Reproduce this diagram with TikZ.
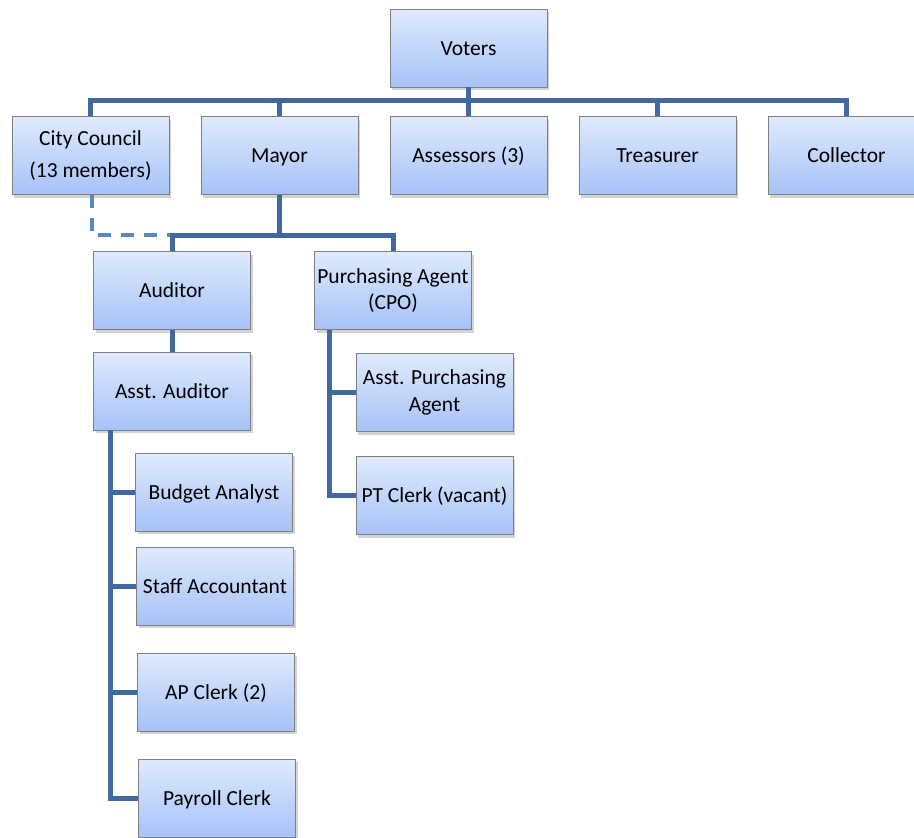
\documentclass[tikz,border=0pt]{standalone}
\usepackage{fontspec}
\setmainfont{Carlito}
\usepackage{tikz}
\usetikzlibrary{shadows}
\definecolor{boxtop}{HTML}{DFEAFD}
\definecolor{boxbot}{HTML}{A6C2F7}
\definecolor{boxline}{HTML}{7F7F7F}
\definecolor{linkblue}{HTML}{41699F}
\definecolor{dashblue}{HTML}{5887C2}

\begin{document}
\begin{tikzpicture}[x=1pt, y=-1pt]
                % pixel grid of the chart, y runs downwards
                \tikzstyle{unit}=[rectangle, draw=boxline, line width=0.9pt, top color=boxtop, bottom color=boxbot,
                        minimum width=157pt, minimum height=78pt, inner sep=1pt, align=center,
                        font=\fontsize{21.5}{26.5}\selectfont,
                        drop shadow={shadow xshift=2pt, shadow yshift=-3pt, opacity=0.35}]
                \tikzstyle{unit1}=[unit, text height=14pt, text depth=0pt]
                \tikzstyle{link}=[linkblue, line width=5pt]
                \tikzstyle{dlink}=[dashblue, line width=4pt, dash pattern=on 13pt off 10pt]
                \path[use as bounding box, clip] (0, 0) rectangle (914, 838);

                \node[unit1] (Voters) at (468.5, 48) {Voters};

                \node[unit] (Council) at (90.5, 155.5) {City Council\\[5pt](13 members)};
                \node[unit1] (Mayor) at (279.5, 155.5) {Mayor};
                \node[unit1] (Assessors) at (468.5, 155.5) {Assessors (3)};
                \node[unit1] (Treasurer) at (657.5, 155.5) {Treasurer};
                \node[unit1] (Collector) at (846.5, 155.5) {Collector};

                \node[unit1] (Auditor) at (172, 290.5) {Auditor};
                \node[unit1] (AsstAud) at (172, 391) {Asst. Auditor};
                \node[unit] (Purch) at (393, 290.5) {Purchasing Agent\\(CPO)};

                \node[unit] (AsstPurch) at (434.5, 392.5) {Asst. Purchasing\\Agent};
                \node[unit1] (PTClerk) at (434.5, 495.5) {PT Clerk (vacant)};

                \node[unit1] (Budget) at (214, 492) {Budget Analyst};
                \node[unit1] (Staff) at (215, 586) {Staff Accountant};
                \node[unit1] (APClerk) at (216, 692) {AP Clerk (2)};
                \node[unit1] (Payroll) at (217, 798) {Payroll Clerk};

                % top level
                \coordinate (bar) at (0, 100);
                \draw[link] (Council.north) |- (Voters.south |- bar) -| (Collector.north);
                \draw[link] (Voters.south) -- (Voters.south |- bar);
                \foreach \n in {Mayor, Assessors, Treasurer}
                        \draw[link] (\n.north) -- (\n.north |- bar);

                % under the mayor
                \coordinate (mbar) at (0, 235);
                \coordinate (dashend) at (198, 235);
                \draw[dlink] ([xshift=1.5pt]Council.south) |- (dashend);
                \draw[link] (Auditor.north) |- (Mayor.south |- mbar) -| (Purch.north);
                \draw[link] (Mayor.south) -- (Mayor.south |- mbar);
                \draw[link] (Auditor) -- (AsstAud);

                % auditor staff
                \coordinate (atrunk) at ([xshift=17pt]AsstAud.south west);
                \draw[link] (atrunk) |- (Payroll.west);
                \foreach \n in {Budget, Staff, APClerk}
                        \draw[link] (atrunk |- \n.west) -- (\n.west);

                % purchasing staff
                \coordinate (ptrunk) at ([xshift=15pt]Purch.south west);
                \draw[link] (ptrunk) |- (PTClerk.west);
                \draw[link] (ptrunk |- AsstPurch.west) -- (AsstPurch.west);
        \end{tikzpicture}
\end{document}
